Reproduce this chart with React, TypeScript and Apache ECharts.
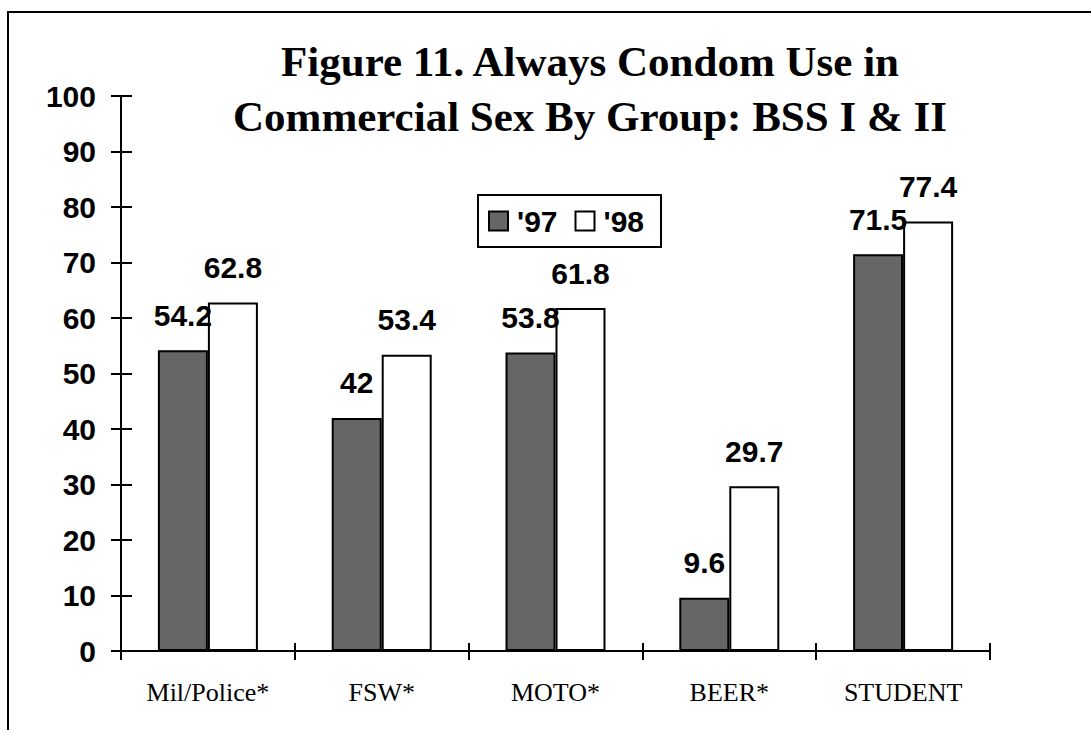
import React, { useEffect, useRef } from "react";
import * as echarts from "echarts";

const categories = ["Mil/Police*", "FSW*", "MOTO*", "BEER*", "STUDENT"];
const values97 = [54.2, 42, 53.8, 9.6, 71.5];
const values98 = [62.8, 53.4, 61.8, 29.7, 77.4];
const seriesNames = ["'97", "'98"];
const titleText = "Figure 11. Always Condom Use in\nCommercial Sex By Group: BSS I & II";

const SANS = "Arial, 'Liberation Sans', sans-serif";
const SERIF = "'Times New Roman', 'Liberation Serif', serif";

export default function App() {
  const ref = useRef<HTMLDivElement>(null);
  useEffect(() => {
    if (!ref.current) return;
    const chart = echarts.init(ref.current, null, { renderer: "svg" });
    const labelStyle = {
      show: true,
      position: "top",
      distance: 20,
      color: "#000",
      fontSize: 30,
      fontWeight: "bold",
      fontFamily: SANS,
    };
    chart.setOption({
      animation: false,
      backgroundColor: "#fff",
      title: {
        text: titleText,
        left: 585,
        top: 29,
        textAlign: "center",
        textStyle: {
          fontFamily: SERIF,
          fontSize: 43,
          fontWeight: "bold",
          color: "#000",
          lineHeight: 55,
          align: "center",
        },
      },
      legend: {
        data: seriesNames,
        left: 478,
        top: 195,
        orient: "horizontal",
        borderColor: "#000",
        borderWidth: 2,
        padding: [11, 17, 11, 10],
        itemGap: 17,
        itemWidth: 19,
        itemHeight: 19,
        icon: "rect",
        textStyle: {
          fontSize: 30,
          fontWeight: "bold",
          fontFamily: SANS,
          color: "#000",
          padding: [0, 0, 0, 4],
        },
      },
      graphic: [
        {
          type: "rect",
          shape: { x: 8, y: 12, width: 1100, height: 730 },
          style: { fill: "none", stroke: "#000", lineWidth: 2 },
          z: 100,
        },
      ],
      grid: { left: 121, right: 101, top: 96, bottom: 79 },
      xAxis: [
        {
          type: "category",
          data: categories,
          position: "bottom",
          axisLine: { show: true, lineStyle: { color: "#000", width: 2 } },
          axisTick: { show: true, inside: false, length: 9, lineStyle: { color: "#000", width: 2 } },
          axisLabel: {
            color: "#000",
            fontSize: 26,
            fontFamily: SERIF,
            margin: 28,
          },
          splitLine: { show: false },
        },
        {
          type: "category",
          data: categories,
          position: "bottom",
          axisLine: { show: false },
          axisTick: { show: true, inside: true, length: 8, lineStyle: { color: "#000", width: 2 } },
          axisLabel: { show: false },
          splitLine: { show: false },
        },
      ],
      yAxis: [
        {
          type: "value",
          min: 0,
          max: 100,
          interval: 10,
          position: "left",
          axisLine: { show: true, lineStyle: { color: "#000", width: 2 } },
          axisTick: { show: true, inside: false, length: 10, lineStyle: { color: "#000", width: 2 } },
          axisLabel: {
            color: "#000",
            fontSize: 30,
            fontWeight: "bold",
            fontFamily: SANS,
            margin: 25,
          },
          splitLine: { show: false },
        },
        {
          type: "value",
          min: 0,
          max: 100,
          interval: 10,
          position: "left",
          axisLine: { show: false },
          axisTick: { show: true, inside: true, length: 11, lineStyle: { color: "#000", width: 2 } },
          axisLabel: { show: false },
          splitLine: { show: false },
        },
      ],
      series: [
        {
          name: seriesNames[0],
          type: "bar",
          data: values97,
          barWidth: 50,
          barGap: "0%",
          itemStyle: { color: "#666666", borderColor: "#000", borderWidth: 2 },
          label: labelStyle,
          z: 2,
        },
        {
          name: seriesNames[1],
          type: "bar",
          data: values98,
          barWidth: 50,
          barGap: "0%",
          itemStyle: { color: "#ffffff", borderColor: "#000", borderWidth: 2 },
          label: labelStyle,
          z: 2,
        },
      ],
    });
    return () => chart.dispose();
  }, []);
  return (
    <div
      ref={ref}
      style={{ position: "absolute", left: 0, top: 0, width: 1091, height: 730 }}
    />
  );
}
